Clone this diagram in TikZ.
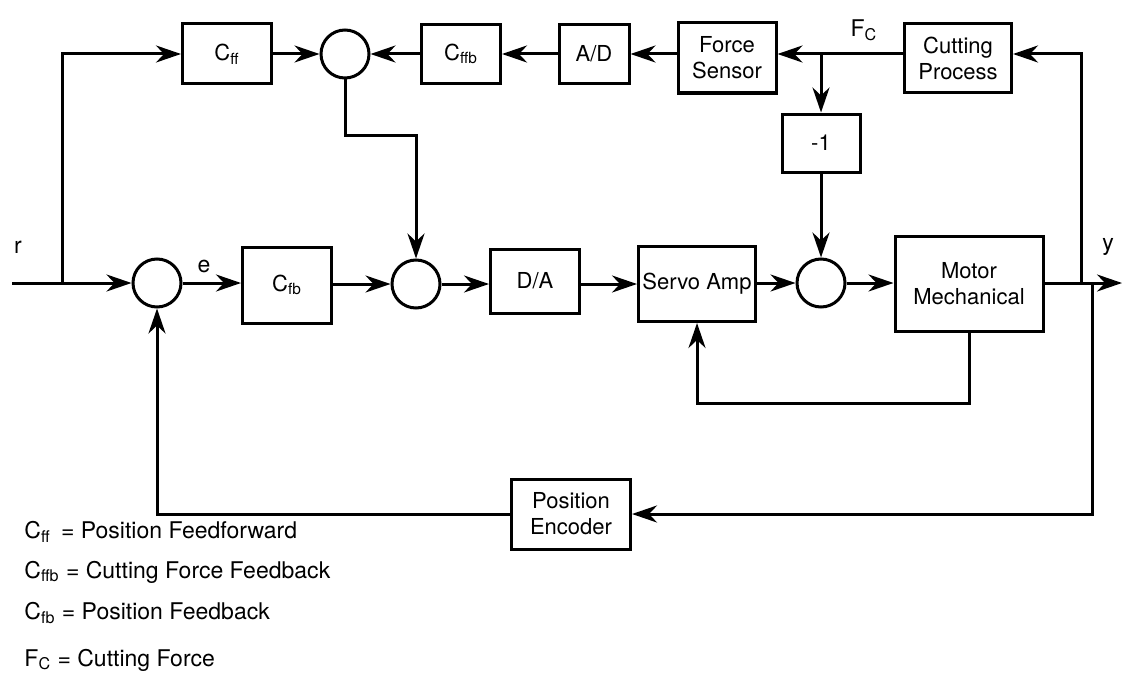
\documentclass[tikz,border=0pt]{standalone}
\usepackage{fontspec}
\setmainfont{TeX Gyre Heros}
\usetikzlibrary{arrows.meta}

\begin{document}
\begin{tikzpicture}[x=0.5pt,y=-0.5pt,>={Stealth[length=12.5pt,width=8.5pt,inset=4pt]},line width=1.5pt,line join=miter,
  blk/.style={draw,rectangle,inner sep=1pt,align=center,font=\fontsize{11}{13}\selectfont},
  sumc/.style={draw,circle,minimum size=24pt,inner sep=0pt},
  lbl/.style={inner sep=0pt,font=\fontsize{11.5}{13}\selectfont},
  legend/.style={anchor=west,inner sep=0pt,font=\fontsize{11.5}{14}\selectfont}]
\useasboundingbox (0,0) rectangle (1127,674);
\node[blk,minimum width=44.5pt,minimum height=30pt] (cff) at (227,54) {C\textsubscript{ff}};
\node[sumc] (sumt) at (345,54) {};
\node[blk,minimum width=39.5pt,minimum height=29.5pt] (cffb) at (461,54) {C\textsubscript{ffb}};
\node[blk,minimum width=35pt,minimum height=29.5pt] (ad) at (594,54) {A/D};
\node[blk,minimum width=49pt,minimum height=35pt] (force) at (727,58) {Force\\Sensor};
\node[blk,minimum width=53.5pt,minimum height=34.5pt] (cut) at (958,58) {Cutting\\Process};
\node[blk,minimum width=39pt,minimum height=29pt] (neg) at (821,143) {-1};
\node[sumc] (sum1) at (157,283) {};
\node[blk,minimum width=44.5pt,minimum height=38pt] (cfb) at (287,285) {C\textsubscript{fb}};
\node[sumc] (sum2) at (416,284) {};
\node[blk,minimum width=44.5pt,minimum height=32pt] (da) at (535,281) {D/A};
\node[blk,minimum width=58.5pt,minimum height=37.5pt] (servo) at (697,284) {Servo Amp};
\node[sumc] (sum3) at (821,283) {};
\node[blk,minimum width=74pt,minimum height=47.5pt] (motor) at (969,284) {Motor\\Mechanical};
\node[blk,minimum width=59.5pt,minimum height=35pt] (enc) at (571,514) {Position\\Encoder};
\coordinate (in) at (12,283);
\coordinate (rb) at (62,283);
\coordinate (fb) at (821,54);
\coordinate (yb) at (1081,283);
\coordinate (eb) at (1092,283);
\coordinate (out) at (1122,283);
\draw (in) -- (rb);
\draw[->] (rb) -- (sum1.west);
\draw[->] (rb) |- (cff.west);
\draw[->] (cff) -- (sumt);
\draw[->] (cffb) -- (sumt);
\draw[->] (ad) -- (cffb);
\draw[->] (force.west |- fb) -- (ad);
\draw[->] (fb) -- (force.east |- fb);
\draw (cut.west |- fb) -- (fb);
\draw[->] (fb) -- (neg);
\draw[->] (neg) -- (sum3);
\draw[->] (sumt.south) -- ++(0,56) -| (sum2.north);
\draw[->] (sum1) -- (cfb.west |- sum1);
\draw[->] (cfb.east |- sum2) -- (sum2);
\draw[->] (sum2) -- (da.west |- sum2);
\draw[->] (da.east |- servo) -- (servo);
\draw[->] (servo.east |- sum3) -- (sum3);
\draw[->] (sum3) -- (motor.west |- sum3);
\draw[->] (motor.east |- out) -- (out);
\draw[->] (yb) |- (cut.east |- fb);
\draw[->] (motor.south) -- ++(0,70) -| (servo.south);
\draw[->] (eb) |- (enc.east);
\draw[->] (enc.west) -| (sum1.south);
\node[lbl] (rlab) at (18,247) {r};
\node[lbl] (elab) at (204,266) {e};
\node[lbl] (ylab) at (1108,247) {y};
\node[lbl] (fclab) at (864,30) {F\textsubscript{C}};
\node[legend] (leg1) at (23,532) {C\textsubscript{ff}\hspace{0.45em}= Position Feedforward};
\node[legend] (leg2) at (23,572) {C\textsubscript{ffb} = Cutting Force Feedback};
\node[legend] (leg3) at (23,613) {C\textsubscript{fb} = Position Feedback};
\node[legend] (leg4) at (23,660) {F\textsubscript{C} = Cutting Force};
\end{tikzpicture}
\end{document}
